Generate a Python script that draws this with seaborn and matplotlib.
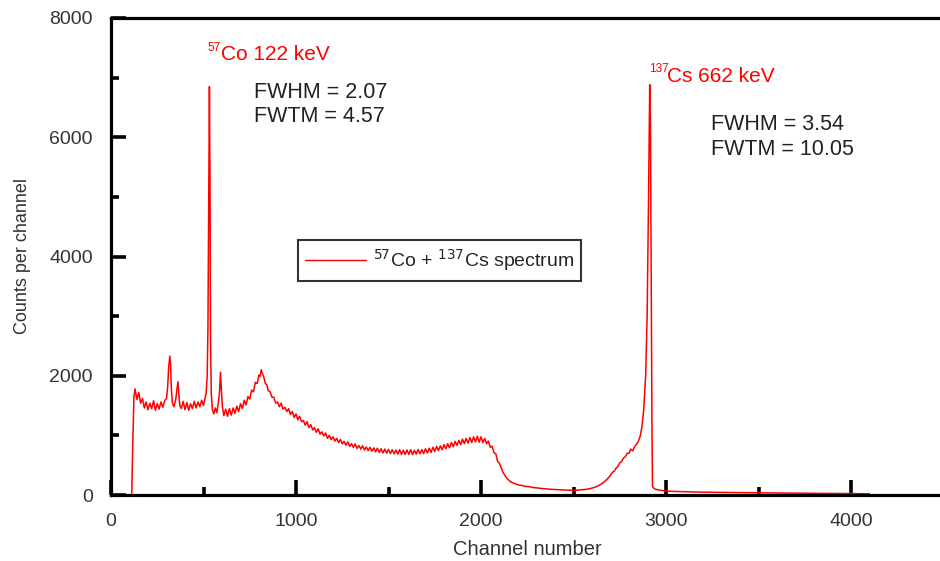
import numpy as np
import pandas as pd
import matplotlib
matplotlib.use("Agg")
import matplotlib.pyplot as plt
from matplotlib.ticker import MultipleLocator
import seaborn as sns

# spectrum (channel, counts)
channel = [0, 60, 112, 118, 124, 130, 140, 150, 160, 170, 180, 190, 200, 210, 220, 230, 240, 250, 260, 270,
           280, 290, 300, 306, 312, 318, 322, 326, 332, 340, 350, 356, 362, 366, 372, 380, 390, 400, 410, 420,
           430, 440, 450, 460, 470, 480, 490, 500, 508, 514, 520, 524, 528, 532, 535, 538, 542, 548, 556, 564,
           572, 580, 586, 592, 596, 602, 610, 620, 630, 640, 650, 660, 670, 680, 690, 700, 710, 720, 730, 740,
           750, 760, 770, 780, 790, 800, 806, 812, 818, 826, 834, 842, 850, 860, 870, 880, 890, 900,
           910, 920, 930, 940, 950, 960, 970, 980, 990, 1000,
           1010, 1020, 1030, 1040, 1050, 1060, 1070, 1080, 1090, 1100,
           1110, 1120, 1130, 1140, 1150, 1160, 1170, 1180, 1190, 1200,
           1210, 1220, 1230, 1240, 1250, 1260, 1270, 1280, 1290, 1300,
           1310, 1320, 1330, 1340, 1350, 1360, 1370, 1380, 1390, 1400,
           1410, 1420, 1430, 1440, 1450, 1460, 1470, 1480, 1490, 1500,
           1510, 1520, 1530, 1540, 1550, 1560, 1570, 1580, 1590, 1600,
           1610, 1620, 1630, 1640, 1650, 1660, 1670, 1680, 1690, 1700,
           1710, 1720, 1730, 1740, 1750, 1760, 1770, 1780, 1790, 1800,
           1810, 1820, 1830, 1840, 1850, 1860, 1870, 1880, 1890, 1900,
           1910, 1920, 1930, 1940, 1950, 1960, 1970, 1980, 1990, 2000,
           2010, 2020, 2030, 2040, 2050, 2060, 2070, 2080, 2090, 2100,
           2120, 2140, 2160, 2180, 2200, 2220, 2240, 2260, 2280, 2300, 2320, 2340, 2360, 2380, 2400, 2420, 2440,
           2460, 2480, 2500, 2520, 2540, 2560, 2580, 2600, 2620, 2640, 2660, 2680,
           2700, 2710, 2720, 2730, 2740, 2750, 2760, 2770, 2780, 2790, 2800, 2810, 2820, 2830, 2840, 2850, 2860, 2870,
           2880, 2890, 2898, 2905, 2912, 2916, 2920, 2924, 2927, 2940, 2960, 3000, 3100, 3200, 3400, 3600, 3800, 4000, 4100]
counts = [0, 0, 0, 900, 1650, 1780, 1600, 1720, 1540, 1620, 1460, 1560, 1430, 1540, 1450, 1580, 1420, 1530, 1440, 1560,
          1470, 1580, 1620, 1800, 2150, 2330, 2200, 1800, 1540, 1480, 1600, 1760, 1900, 1720, 1500, 1450, 1570, 1430, 1550, 1420,
          1530, 1450, 1570, 1460, 1560, 1480, 1590, 1500, 1620, 1700, 2000, 2800, 4800, 6850, 5400, 2600, 1700, 1430, 1360, 1460,
          1380, 1540, 1700, 2060, 1800, 1480, 1330, 1440, 1320, 1450, 1340, 1460, 1370, 1490, 1400, 1530, 1450, 1590, 1510, 1650,
          1610, 1760, 1730, 1890, 1870, 2010, 1990, 2100, 2040, 1980, 1870, 1850, 1750, 1730, 1640, 1640, 1540, 1560,
          1480, 1540, 1440, 1470, 1400, 1450, 1350, 1400, 1300, 1360,
          1260, 1320, 1230, 1250, 1170, 1230, 1130, 1180, 1090, 1130,
          1050, 1110, 1020, 1060, 990, 1040, 950, 1000, 930, 975,
          905, 950, 880, 930, 860, 900, 835, 890, 815, 860,
          800, 855, 780, 830, 770, 825, 755, 805, 745, 800,
          735, 790, 725, 785, 715, 775, 705, 770, 700, 765,
          695, 760, 690, 755, 685, 760, 680, 750, 682, 755,
          680, 760, 678, 750, 685, 765, 690, 760, 695, 775,
          705, 785, 715, 800, 730, 815, 745, 825, 760, 845,
          775, 860, 790, 880, 810, 900, 830, 915, 845, 935,
          860, 950, 870, 965, 880, 975, 890, 985, 885, 975,
          880, 950, 860, 905, 800, 820, 710, 690, 560, 530,
          370, 280, 220, 195, 170, 160, 145, 140, 125, 120, 112, 105, 100, 95, 92, 88, 85,
          82, 80, 80, 82, 86, 92, 100, 115, 135, 165, 205, 260,
          330, 380, 400, 450, 480, 540, 560, 620, 640, 700, 700, 770, 740, 810, 850, 900, 980, 1150,
          1450, 2000, 3000, 4800, 6880, 6200, 3500, 1200, 140, 100, 85, 65, 55, 48, 40, 34, 28, 24, 20]

xticks = [0, 1000, 2000, 3000, 4000]
yticks = [0, 2000, 4000, 6000, 8000]

df = pd.DataFrame({"channel": channel, "counts": counts})

sns.set_style("white")
plt.rcParams["font.family"] = ["Liberation Sans", "DejaVu Sans"]
txt = "#333333"
red = "#ff0000"

fig = plt.figure(figsize=(9.4, 5.61), dpi=100)
ax = fig.add_axes([111 / 940, 66 / 561, 832.5 / 940, 477 / 561])

sns.lineplot(data=df, x="channel", y="counts", color=red, lw=1.1, ax=ax,
             label=r"$^{57}$Co + $^{137}$Cs spectrum")

ax.set_xlim(0, 4500)
ax.set_ylim(0, 8000)
ax.set_xticks(xticks)
ax.set_yticks(yticks)
ax.xaxis.set_minor_locator(MultipleLocator(500))
ax.yaxis.set_minor_locator(MultipleLocator(1000))
ax.tick_params(axis="both", which="both", bottom=True, left=True, top=False, right=False)
ax.tick_params(which="major", direction="in", length=11, width=2.6, colors="black",
               labelcolor=txt, labelsize=14, pad=13)
ax.tick_params(which="minor", direction="in", length=5.5, width=2.6, colors="black")
for s in ["left", "bottom", "top", "right"]:
    ax.spines[s].set_linewidth(2.3)
    ax.spines[s].set_color("black")

ax.set_xlabel("Channel number", fontsize=14.5, color=txt, labelpad=7)
ax.set_ylabel("Counts per channel", fontsize=13, color=txt, labelpad=13)

# peak labels, small superscripts drawn separately
ax.text(524, 7447, "57", color=red, fontsize=8.5, va="baseline")
ax.text(595, 7296, "Co 122 keV", color=red, fontsize=15, va="baseline")
ax.text(2908, 7094, "137", color=red, fontsize=8.5, va="baseline")
ax.text(3005, 6927, "Cs 662 keV", color=red, fontsize=15, va="baseline")

ax.text(773, 6658, "FWHM = 2.07", color="#222222", fontsize=15.5, va="baseline")
ax.text(773, 6256, "FWTM = 4.57", color="#222222", fontsize=15.5, va="baseline")
ax.text(3243, 6122, "FWHM = 3.54", color="#222222", fontsize=15.5, va="baseline")
ax.text(3243, 5702, "FWTM = 10.05", color="#222222", fontsize=15.5, va="baseline")

leg = ax.legend(loc="upper left", bbox_to_anchor=(0.2246, 0.5346), fontsize=14, frameon=True,
                fancybox=False, handlelength=3.1, borderpad=0.38, handletextpad=0.36,
                borderaxespad=0)
leg.get_frame().set_edgecolor("black")
leg.get_frame().set_linewidth(1.5)
for line in leg.get_lines():
    line.set_linewidth(1.0)

fig.savefig("out.png", dpi=100)
